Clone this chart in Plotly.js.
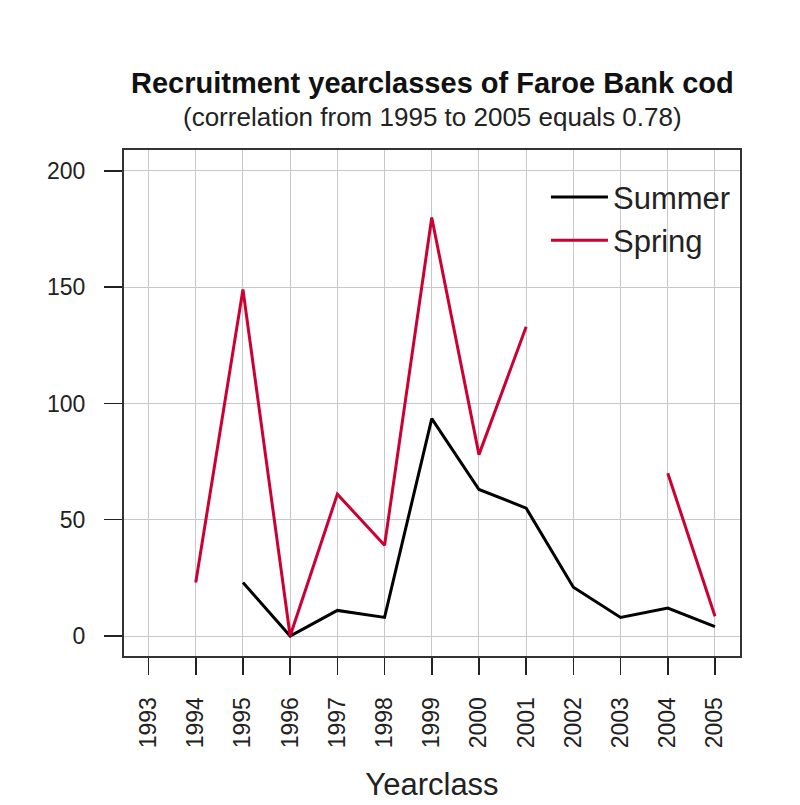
<!DOCTYPE html>
<html>
<head>
<meta charset="utf-8">
<script src="https://cdn.plot.ly/plotly-3.0.1.min.js"></script>
<style>html,body{margin:0;padding:0;background:#fff;}#chart{width:800px;height:805px;}</style>
</head>
<body>
<div id="chart"></div>
<script>
const years = [1993, 1994, 1995, 1996, 1997, 1998, 1999, 2000, 2001, 2002, 2003, 2004, 2005];
const tickLabels = ["1993","1994","1995","1996","1997","1998","1999","2000","2001","2002","2003","2004","2005"];
const summer = [null, null, 23, 0, 11, 8, 93.5, 63, 55, 21, 8, 12, 4];
const spring = [null, 23, 149, 0, 61, 39, 180, 78, 133, null, null, 70, 8.5];
const yTicks = [0, 50, 100, 150, 200];

const font = "Liberation Sans, Arial, sans-serif";
const traces = [
  {x: years, y: summer, name: "Summer", type: "scatter", mode: "lines",
   line: {color: "#000000", width: 3}, connectgaps: false},
  {x: years, y: spring, name: "Spring", type: "scatter", mode: "lines",
   line: {color: "#cc0033", width: 3}, connectgaps: false}
];
const layout = {
  width: 800, height: 805,
  paper_bgcolor: "#ffffff", plot_bgcolor: "#ffffff",
  margin: {l: 124, r: 60, t: 150, b: 149},
  font: {family: font, color: "#222"},
  showlegend: true,
  legend: {x: 0.685, y: 0.96, xanchor: "left", yanchor: "top",
    bgcolor: "rgba(0,0,0,0)", borderwidth: 0, font: {size: 31, color: "#222"},
    itemwidth: 57, tracegroupgap: 2},
  xaxis: {range: [1992.48, 2005.53], tickmode: "array", tickvals: years, ticktext: tickLabels,
    tickangle: -90, tickfont: {size: 23, color: "#222"}, ticks: "outside", ticklen: 17,
    tickwidth: 1.5, tickcolor: "#222", ticklabelstandoff: 13,
    showgrid: true, gridcolor: "#c8c8c8", gridwidth: 1, zeroline: false,
    showline: true, linecolor: "#333", linewidth: 2, mirror: true,
    title: {text: "Yearclass", font: {size: 31, color: "#222"}, standoff: 26}},
  yaxis: {range: [-8.6, 209], tickmode: "array", tickvals: yTicks,
    tickfont: {size: 23, color: "#222"}, ticks: "outside", ticklen: 18,
    tickwidth: 1.5, tickcolor: "#222", ticklabelstandoff: 14,
    showgrid: true, gridcolor: "#c8c8c8", gridwidth: 1, zeroline: false,
    showline: true, linecolor: "#333", linewidth: 2, mirror: true},
  annotations: [
    {text: "<b>Recruitment yearclasses of Faroe Bank cod</b>", xref: "paper", yref: "paper",
     x: 0.5, y: 1, yshift: 67, xanchor: "center", yanchor: "middle", showarrow: false,
     font: {size: 29, color: "#111"}},
    {text: "(correlation from 1995 to 2005 equals 0.78)", xref: "paper", yref: "paper",
     x: 0.5, y: 1, yshift: 33, xanchor: "center", yanchor: "middle", showarrow: false,
     font: {size: 26, color: "#222"}}
  ]
};
Plotly.newPlot("chart", traces, layout, {displayModeBar: false, staticPlot: true});
</script>
</body>
</html>
